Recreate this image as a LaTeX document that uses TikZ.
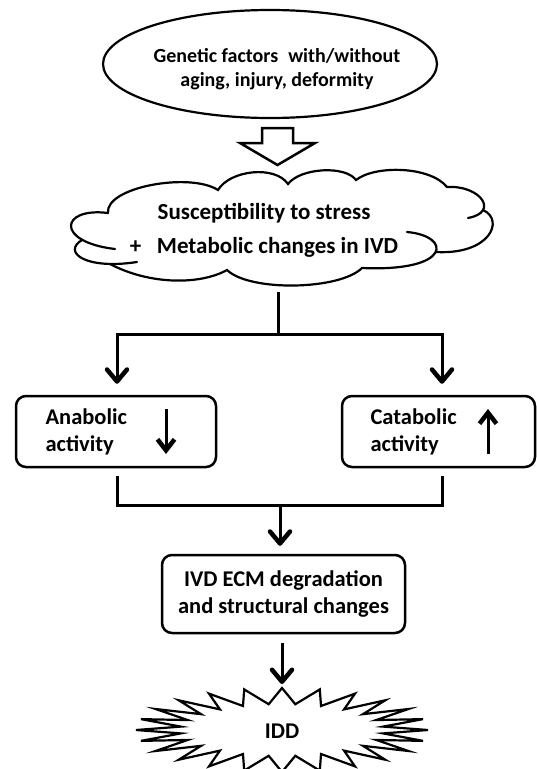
\documentclass[tikz,border=0pt]{standalone}
\usepackage{fontspec}
\setmainfont{Carlito}
\usetikzlibrary{shapes.geometric,arrows.meta}
\tikzset{
  lbl/.style={font=\bfseries\fontsize{22.5}{27}\selectfont, text=black},
  conn/.style={line width=3pt, -{Straight Barb[length=12pt,width=20pt,line width=4.5pt,round=false]}},
  inarrow/.style={line width=3pt, -{Straight Barb[length=11pt,width=17pt,line width=4.5pt]}},
  plain/.style={line width=3pt},
  rbox/.style={draw, line width=2.5pt, rounded corners=10pt, fill=white},
  cloudline/.style={line width=2.2pt, line cap=round},
}
\begin{document}
\begin{tikzpicture}[x=1pt,y=-1pt]
\useasboundingbox (0,0) rectangle (537,769);
% top ellipse
\node[ellipse, draw, line width=2.2pt, minimum width=334pt, minimum height=108pt] (gen) at (270,64) {};
\node[align=center, font=\bfseries\fontsize{20}{23.5}\selectfont] (gent) at (277,69) {Genetic factors\hspace{0.5em}with/without\\aging, injury, deformity};
% hollow arrow
\draw[line width=2.5pt, line join=miter] (262,128) -- (293,128) -- (293,143) -- (315,143) -- (277.5,165) -- (240,143) -- (262,143) -- cycle;
% cloud (drawn shape)
\draw[cloudline] (108,213) .. controls (105,187) and (190,172) .. (218,190)
   .. controls (230,170) and (275,165) .. (288,184)
   .. controls (300,168) and (345,165) .. (356,180)
   .. controls (375,165) and (430,166) .. (447,187)
   .. controls (480,185) and (500,212) .. (468,218);
\draw[cloudline] (483,210) .. controls (505,220) and (490,255) .. (436,252);
\draw[cloudline] (407,232) .. controls (452,236) and (452,272) .. (362,268)
   .. controls (340,290) and (250,292) .. (227,270)
   .. controls (200,285) and (150,285) .. (110,264);
\draw[cloudline] (82,240) .. controls (62,252) and (85,270) .. (137,262);
\draw[cloudline] (108,213) .. controls (60,207) and (55,242) .. (115,249);
\node[align=center, font=\bfseries\fontsize{23}{34}\selectfont] (cloud) at (264,230)
      {Susceptibility to stress\\+\ \ \ Metabolic changes in IVD};
% junctions
\coordinate (c0) at (278,292);
\coordinate (c1) at (278,334);
\coordinate (cl) at (117,334);
\coordinate (cr) at (442,334);
% side boxes
\node[rbox, minimum width=200pt, minimum height=71pt] (ana) at (116,431.5) {};
\node[rbox, minimum width=193pt, minimum height=71pt] (cat) at (438.5,431.5) {};
\node[lbl, align=left, anchor=west] (anat) at (42,431.5) {Anabolic\\activity};
\node[lbl, align=left, anchor=west] (catt) at (367,431.5) {Catabolic\\activity};
\coordinate (ad1) at (166,409);
\coordinate (ad2) at (166,454);
\coordinate (cu1) at (488,454);
\coordinate (cu2) at (488,409);
\draw[inarrow] (ad1) -- (ad2);
\draw[inarrow] (cu1) -- (cu2);
\draw[plain] (c0) -- (c1);
\draw[plain, line cap=rect] (cl) -- (cr);
\draw[conn] (cl) -- ([yshift=11pt]ana.north -| cl);
\draw[conn] (cr) -- ([yshift=11pt]cat.north -| cr);
% lower
\coordinate (dl0) at (117,476);
\coordinate (dr0) at (442,476);
\coordinate (dl) at (117,505);
\coordinate (dr) at (442,505);
\coordinate (dm) at (280,505);
\draw[plain, line join=miter] (dl0) -- (dl) -- (dr) -- (dr0);
\node[rbox, minimum width=243pt, minimum height=78pt, align=center, lbl, font=\bfseries\fontsize{22.5}{27}\selectfont] (ivd) at (283.5,594)
   {IVD ECM degradation\\and structural changes};
\draw[conn] (dm) -- ([yshift=8pt]ivd.north -| dm);
% starburst
\draw[line width=2.2pt, fill=white, line join=miter] plot[variable=\k, samples at={0,...,47}]
  ({282+(124+22*cos(\k*180))*cos(90+\k*7.5)}, {730-(34+8*cos(\k*180))*sin(90+\k*7.5)}) -- cycle;
\node[lbl] (idd) at (282,731) {IDD};
\coordinate (iddtop) at (282,684);
\coordinate (ivdb) at (282,643);
\draw[conn] (ivdb) -- (iddtop);
\end{tikzpicture}
\end{document}
